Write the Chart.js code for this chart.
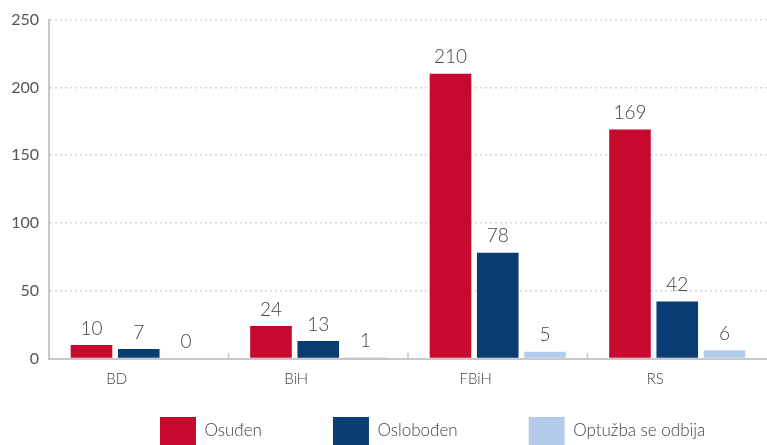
<!DOCTYPE html>
<html>
<head>
<meta charset="utf-8">
<script src="https://cdn.jsdelivr.net/npm/chart.js@4"></script>
<style>
    html, body { margin: 0; padding: 0; background: #fff; }
    #wrap { width: 767px; height: 445px; }
</style>
</head>
<body>
<div id="wrap"><canvas id="chart"></canvas></div>
<script>
// data
const categories = ['BD', 'BiH', 'FBiH', 'RS'];
const osudjen = [10, 24, 210, 169];
const oslobodjen = [7, 13, 78, 42];
const odbija = [0, 1, 5, 6];
const seriesNames = ['Osuđen', 'Oslobođen', 'Optužba se odbija'];
const yTicks = [0, 50, 100, 150, 200, 250];

const colors = ['#c8092f', '#0a3d73', '#b5cbeb'];
const FONT = 'Lato, "Open Sans", sans-serif';

// values above the bars
const valueLabels = {
    id: 'valueLabels',
    afterDatasetsDraw(chart) {
        const ctx = chart.ctx;
        ctx.save();
        ctx.font = '300 19px ' + FONT;
        ctx.fillStyle = '#444';
        ctx.textAlign = 'center';
        ctx.textBaseline = 'bottom';
        chart.data.datasets.forEach((ds, i) => {
            chart.getDatasetMeta(i).data.forEach((bar, j) => {
                ctx.fillText(ds.data[j], bar.x, bar.y - 7);
            });
        });
        ctx.restore();
    }
};

// small upward tick marks between categories
const categoryTicks = {
    id: 'categoryTicks',
    afterDraw(chart) {
        const x = chart.scales.x;
        const ctx = chart.ctx;
        const bottom = chart.chartArea.bottom;
        ctx.save();
        ctx.strokeStyle = '#c8c8c8';
        ctx.lineWidth = 1.5;
        for (let i = 0; i < categories.length - 1; i++) {
            const px = (x.getPixelForValue(i) + x.getPixelForValue(i + 1)) / 2;
            ctx.beginPath();
            ctx.moveTo(px, bottom);
            ctx.lineTo(px, bottom - 6);
            ctx.stroke();
        }
        ctx.restore();
    }
};

// keep the legend low and short, the wide item padding would otherwise eat the plot
const legendPlace = {
    id: 'legendPlace',
    beforeLayout(chart) {
        const lg = chart.legend;
        if (lg && !lg._wrapped) {
            const fit = lg.fit;
            lg.fit = function () { fit.call(this); this.height = 44; };
            lg._wrapped = true;
        }
    },
    afterLayout(chart) {
        const lg = chart.legend;
        const pad = lg.options.labels.padding;
        lg.top = 417 - pad;
        lg.left = 160 - pad;
        lg.right = 1000; // no wrapping
    }
};

const datasets = [osudjen, oslobodjen, odbija].map((d, i) => ({
    label: seriesNames[i],
    data: d,
    backgroundColor: colors[i],
    barPercentage: 0.88,
    categoryPercentage: 0.79
}));

new Chart(document.getElementById('chart'), {
    type: 'bar',
    data: { labels: categories, datasets: datasets },
    options: {
        responsive: true,
        maintainAspectRatio: false,
        animation: false,
        layout: { padding: { top: 18, right: 0, left: 0, bottom: 0 } },
        plugins: {
            legend: {
                position: 'bottom',
                align: 'start',
                labels: {
                    boxWidth: 36,
                    boxHeight: 28,
                    padding: 71,
                    color: '#444',
                    font: { family: FONT, size: 17, weight: 300 }
                }
            },
            tooltip: { enabled: false }
        },
        scales: {
            x: {
                grid: { display: false },
                border: { color: '#c8c8c8', width: 2 },
                ticks: {
                    color: '#444',
                    padding: 4,
                    labelOffset: -22,
                    font: { family: FONT, size: 15, weight: 300 }
                },
                afterFit(scale) { scale.height = 42.5; }
            },
            y: {
                min: 0,
                max: 250,
                afterBuildTicks(scale) { scale.ticks = yTicks.map(v => ({ value: v })); },
                grid: {
                    color: '#d6d6d6',
                    lineWidth: 1.5,
                    drawTicks: false
                },
                border: { color: '#c8c8c8', width: 2, dash: [2, 3] },
                ticks: {
                    color: '#555',
                    padding: 10,
                    font: { family: FONT, size: 16 }
                },
                afterFit(scale) { scale.width = 49; }
            }
        }
    },
    plugins: [valueLabels, categoryTicks, legendPlace]
});
</script>
</body>
</html>
